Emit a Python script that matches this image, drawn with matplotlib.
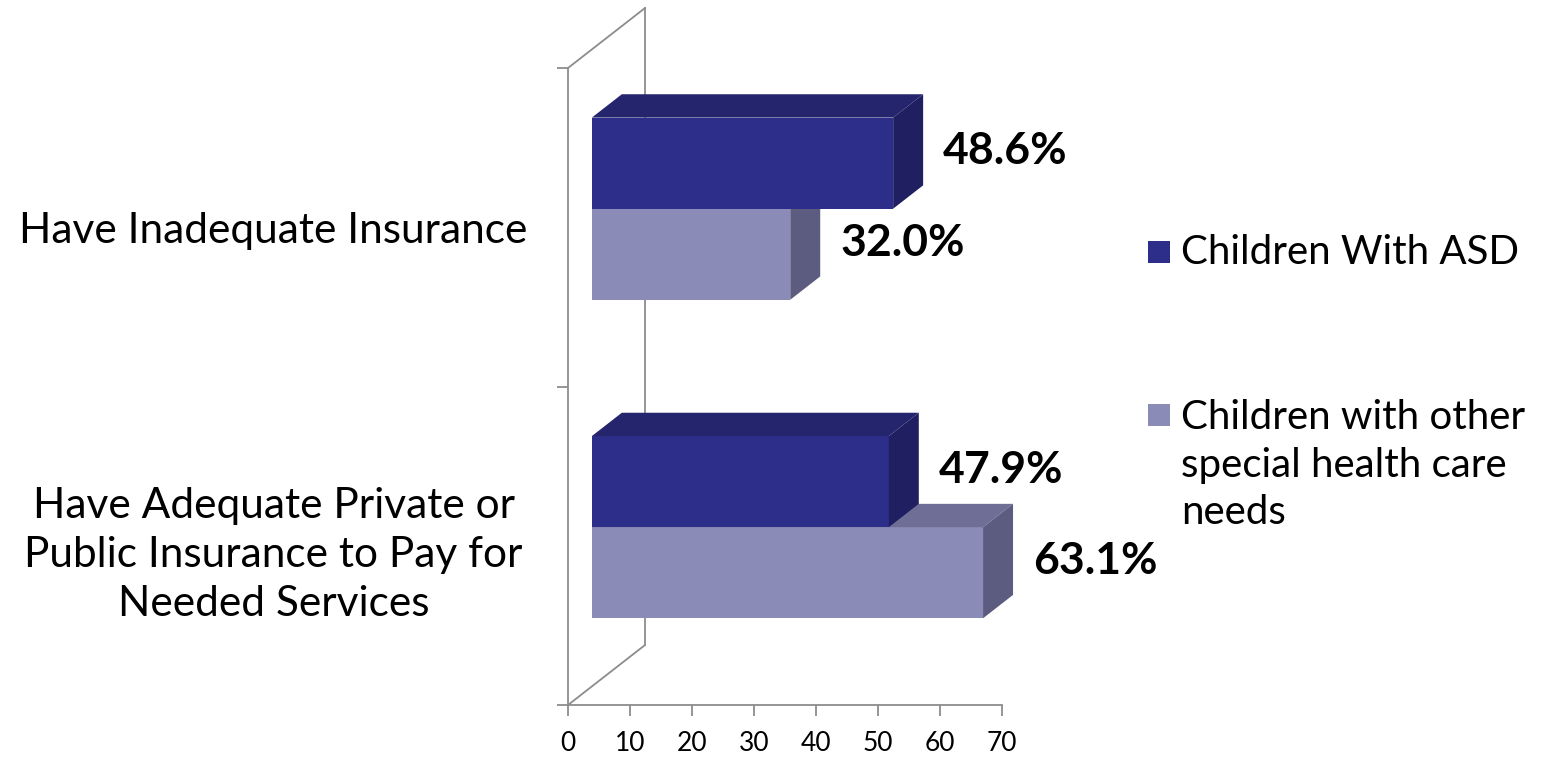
import numpy as np
import matplotlib.pyplot as plt
from matplotlib.patches import Polygon, Rectangle

plt.rcParams['font.family'] = ['Lato', 'DejaVu Sans']

# data
categories = ["Have Inadequate Insurance",
              "Have Adequate Private or\nPublic Insurance to Pay for\nNeeded Services"]
series_names = ["Children With ASD", "Children with other\nspecial health care\nneeds"]
asd = [48.6, 47.9]
other = [32.0, 63.1]
xticks = [0, 10, 20, 30, 40, 50, 60, 70]

front_cols = ['#2d2d8a', '#8b8bb8']
top_cols = ['#25256e', '#6e6e96']
side_cols = ['#1f1f62', '#5c5c80']
line_col = '#8c8c8c'

W, H = 1562, 757
fig = plt.figure(figsize=(W / 100, H / 100), dpi=100)
# plot box in pixels: x 568..1002, y 68..705
ax = fig.add_axes([568 / W, (H - 705) / H, (1002 - 568) / W, (705 - 68) / H])
ax.set_xlim(0, 70)
ax.set_ylim(0, 2)

# pseudo 3d depth of the wall, in data units
dxw, dyw = 12.4, 0.188
f1, f2 = 0.31, 0.70
bh = 0.286

# frame: back wall lines
kw = dict(color=line_col, lw=1.3, clip_on=False, zorder=1)
ax.plot([dxw, dxw], [dyw, 2 + dyw], **kw)
ax.plot([0, dxw], [0, dyw], **kw)
ax.plot([0, dxw], [2, 2 + dyw], **kw)

for spine in ['top', 'right']:
    ax.spines[spine].set_visible(False)
for spine in ['left', 'bottom']:
    ax.spines[spine].set_color(line_col)
    ax.spines[spine].set_linewidth(1.3)

ncat = len(categories)
centers = [ncat - 0.5 - i for i in range(ncat)]


def box(v, y0, col_i):
    x0 = f1 * dxw
    yy = y0 + f1 * dyw
    ddx = (f2 - f1) * dxw
    ddy = (f2 - f1) * dyw
    ax.barh(yy, v, height=bh, left=x0, align='edge', color=front_cols[col_i],
            edgecolor='none', clip_on=False, zorder=3)
    top = [(x0, yy + bh), (x0 + v, yy + bh), (x0 + v + ddx, yy + bh + ddy), (x0 + ddx, yy + bh + ddy)]
    side = [(x0 + v, yy), (x0 + v + ddx, yy + ddy), (x0 + v + ddx, yy + bh + ddy), (x0 + v, yy + bh)]
    ax.add_patch(Polygon(top, closed=True, fc=top_cols[col_i], ec='none', clip_on=False, zorder=3))
    ax.add_patch(Polygon(side, closed=True, fc=side_cols[col_i], ec='none', clip_on=False, zorder=3))
    ax.text(x0 + v + ddx + 3.2, yy + bh / 2 + ddy / 2, f"{v:.1f}%", ha='left', va='center',
            fontsize=32, fontweight='bold', color='black', clip_on=False, zorder=4)


for i, c in enumerate(centers):
    box(other[i], c - bh, 1)
    box(asd[i], c, 0)

# ticks
ax.set_xticks(xticks)
ax.set_xticklabels([str(t) for t in xticks])
ax.tick_params(axis='x', length=8, width=1.3, color=line_col, labelsize=19, pad=11)
ax.set_yticks([0, 1, 2])
ax.set_yticklabels([])
ax.tick_params(axis='y', which='major', length=8, width=1.3, color=line_col)
ax.set_yticks(centers, categories, minor=True)
ax.tick_params(axis='y', which='minor', length=0, pad=212, labelsize=30.5)
for lab in ax.get_yticklabels(minor=True):
    lab.set_ha('center')
    lab.set_multialignment('center')
    lab.set_linespacing(1.36)

# legend
leg_y = [252, 465]
sq_y = [252, 415]
for i, name in enumerate(series_names):
    ax.add_artist(Rectangle((1148 / W, (H - sq_y[i] - 11) / H), 22 / W, 22 / H,
                            transform=fig.transFigure, fc=front_cols[i], ec='none', clip_on=False))
    fig.text(1181 / W, (H - leg_y[i]) / H, name, ha='left', va='center', fontsize=29,
             linespacing=1.36)

fig.savefig('out.png', dpi=100)
